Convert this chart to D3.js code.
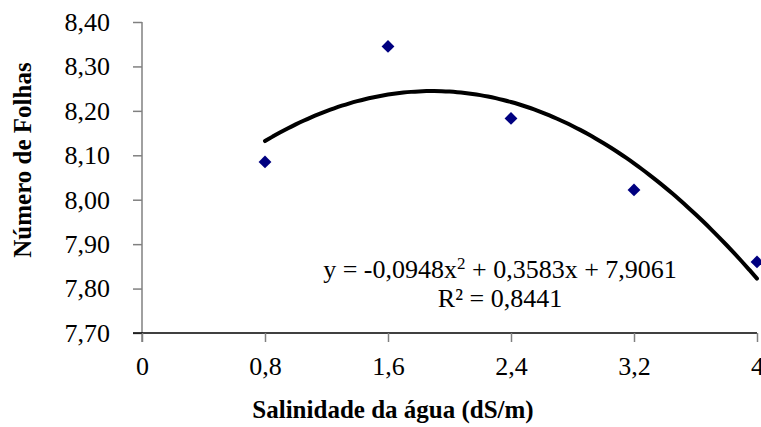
<!DOCTYPE html>
<html>
<head>
<meta charset="utf-8">
<script src="https://cdn.jsdelivr.net/npm/d3@7"></script>
<style>
  body { margin: 0; background: #fff; }
  svg text { font-family: "Liberation Serif", "Times New Roman", serif; }
</style>
</head>
<body>
<div id="chart"></div>
<script>
// salinity levels and leaf counts
var salinity = [0.8, 1.6, 2.4, 3.2, 4];
var leaves = [8.085, 8.345, 8.183, 8.022, 7.86];
var xTicks = [0, 0.8, 1.6, 2.4, 3.2, 4];
var yTicks = [7.7, 7.8, 7.9, 8.0, 8.1, 8.2, 8.3, 8.4];
// quadratic trendline from the chart: a*x^2 + b*x + c
var trendCoef = [-0.0948, 0.3583, 7.9061];
var trendRange = [0.8, 4];

var serif = "Liberation Serif, Times New Roman, serif";
var svg = d3.select("#chart").append("svg").attr("width", 761).attr("height", 427);

var x = d3.scaleLinear().domain([0, 4]).range([142, 757]);
var y = d3.scaleLinear().domain([7.7, 8.4]).range([333, 22]);

var fmtY = function(d) { return d3.format(".2f")(d).replace(".", ","); };
var fmtX = function(d) { return String(d).replace(".", ","); };

// y axis
var yAxis = svg.append("g").attr("transform", "translate(142,0)")
  .call(d3.axisLeft(y).tickValues(yTicks).tickSize(9).tickSizeOuter(0).tickPadding(23).tickFormat(fmtY))
  .attr("font-family", serif);
yAxis.select(".domain").attr("stroke", "#808080").attr("stroke-width", 1.5).attr("d", "M0,22V342");
yAxis.selectAll(".tick line").attr("stroke", "#808080").attr("stroke-width", 1.5);
yAxis.selectAll("text").attr("font-size", 26).attr("fill", "#000");

// x axis
var xAxis = svg.append("g").attr("transform", "translate(0,333)")
  .call(d3.axisBottom(x).tickValues(xTicks).tickSize(9).tickSizeOuter(0).tickFormat(fmtX))
  .attr("font-family", serif);
xAxis.select(".domain").attr("stroke", "#000").attr("stroke-width", 1.3).attr("d", "M133,0H757");
xAxis.selectAll(".tick line").attr("stroke", "#808080").attr("stroke-width", 1.5);
xAxis.selectAll("text").attr("font-size", 26).attr("fill", "#000").attr("y", 42).attr("dy", 0);

// trendline
var trendX = d3.range(trendRange[0], trendRange[1] + 0.001, 0.05);
var line = d3.line()
  .x(function(d) { return x(d); })
  .y(function(d) { return y(trendCoef[0] * d * d + trendCoef[1] * d + trendCoef[2]); })
  .curve(d3.curveBasis);
svg.append("path").datum(trendX).attr("d", line)
  .attr("fill", "none").attr("stroke", "#000").attr("stroke-width", 4).attr("stroke-linecap", "round");

// points
svg.selectAll(".pt").data(salinity).enter().append("path")
  .attr("class", "pt")
  .attr("d", d3.symbol().type(d3.symbolDiamond2).size(105))
  .attr("transform", function(d, i) { return "translate(" + x(d) + "," + y(leaves[i]) + ")"; })
  .attr("fill", "#000080");

// equation
var eq = svg.append("text").attr("x", 500).attr("y", 278).attr("text-anchor", "middle").attr("font-size", 26);
eq.append("tspan").text("y = -0,0948x");
eq.append("tspan").attr("dy", -9).attr("font-size", 17).text("2");
eq.append("tspan").attr("dy", 9).text(" + 0,3583x + 7,9061");
svg.append("text").attr("x", 500).attr("y", 307).attr("text-anchor", "middle").attr("font-size", 26).text("R² = 0,8441");

// axis titles
svg.append("text").attr("x", 393).attr("y", 418).attr("text-anchor", "middle")
  .attr("font-size", 25).attr("font-weight", "bold").text("Salinidade da água (dS/m)");
svg.append("text").attr("transform", "translate(31,160) rotate(-90)").attr("text-anchor", "middle")
  .attr("font-size", 25).attr("font-weight", "bold").text("Número de Folhas");
</script>
</body>
</html>
